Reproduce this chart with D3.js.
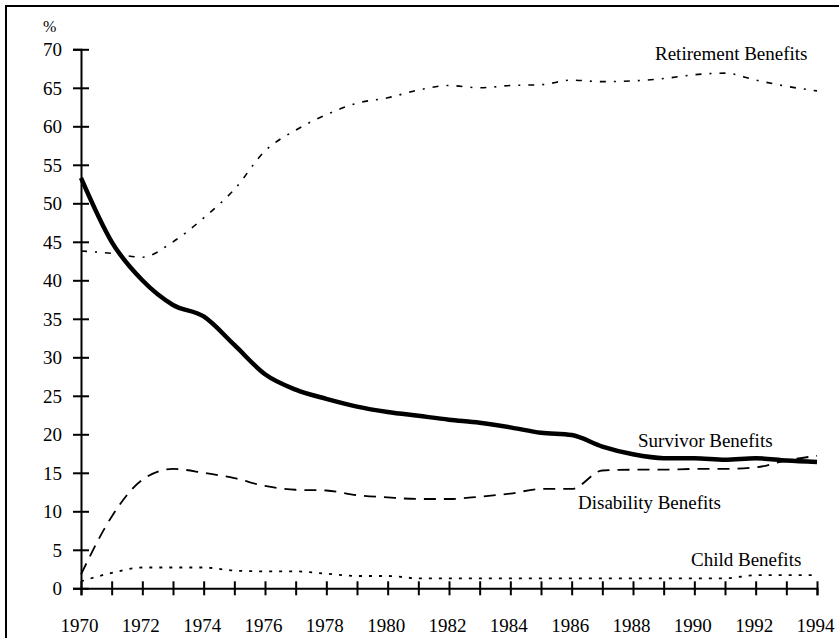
<!DOCTYPE html>
<html>
<head>
<meta charset="utf-8">
<script src="https://cdn.jsdelivr.net/npm/d3@7"></script>
<style>
  html, body { margin: 0; padding: 0; background: #fff; }
  svg { display: block; }
  text { font-family: "Liberation Serif", "Times New Roman", serif; fill: #000; }
</style>
</head>
<body>
<div id="chart"></div>
<script>
const years = [1970, 1971, 1972, 1973, 1974, 1975, 1976, 1977, 1978, 1979, 1980, 1981, 1982,
  1983, 1984, 1985, 1986, 1987, 1988, 1989, 1990, 1991, 1992, 1993, 1994];

const retirement = [43.8, 43.5, 43.0, 45.0, 48.1, 51.8, 56.8, 59.5, 61.5, 63.0, 63.7, 64.7, 65.3,
  65.0, 65.3, 65.4, 66.0, 65.8, 65.9, 66.2, 66.7, 66.9, 66.0, 65.2, 64.6];
const survivor = [53.3, 45.0, 40.0, 36.8, 35.3, 31.6, 27.8, 25.8, 24.6, 23.6, 22.9, 22.4, 21.9,
  21.5, 20.9, 20.2, 19.9, 18.4, 17.4, 16.9, 16.9, 16.7, 16.9, 16.6, 16.4];
const disability = [1.8, 9.3, 14.1, 15.5, 15.0, 14.3, 13.3, 12.8, 12.7, 12.1, 11.8, 11.6, 11.6,
  11.9, 12.3, 12.9, 12.9, 15.3, 15.4, 15.4, 15.5, 15.5, 15.7, 16.6, 17.2];
const child = [0.9, 2.0, 2.7, 2.7, 2.7, 2.3, 2.2, 2.2, 1.9, 1.6, 1.6, 1.3, 1.3,
  1.3, 1.3, 1.3, 1.3, 1.3, 1.3, 1.3, 1.3, 1.3, 1.7, 1.7, 1.7];

const yTicks = [0, 5, 10, 15, 20, 25, 30, 35, 40, 45, 50, 55, 60, 65, 70];
const xLabels = [1970, 1972, 1974, 1976, 1978, 1980, 1982, 1984, 1986, 1988, 1990, 1992, 1994];

const series = [
  { name: 'Retirement Benefits', values: retirement, width: 1.6, dash: '6,8,2,8', label: [655, 60] },
  { name: 'Disability Benefits', values: disability, width: 1.8, dash: '12,8', label: [578, 509] },
  { name: 'Child Benefits', values: child, width: 1.8, dash: '3,7', label: [691, 566] },
  { name: 'Survivor Benefits', values: survivor, width: 4.5, dash: null, label: [638, 447] }
];

const width = 839;
const height = 638;

const svg = d3.select('#chart').append('svg').attr('width', width).attr('height', height);

// frame, only left and top edges show
svg.append('rect')
  .attr('x', 6).attr('y', 6)
  .attr('width', 900).attr('height', 700)
  .attr('fill', 'none').attr('stroke', '#000').attr('stroke-width', 2);

const x = d3.scaleLinear().domain([1970, 1994]).range([81, 817]);
const y = d3.scaleLinear().domain([0, 70]).range([588.3, 49.3]);

const fontSize = 19;

// y axis
const yAxis = svg.append('g')
  .attr('transform', `translate(${x(1970)},0)`)
  .call(d3.axisLeft(y).tickValues(yTicks).tickSizeOuter(0).tickSize(8));
yAxis.select('.domain').attr('stroke-width', 2);
yAxis.selectAll('.tick line').attr('x1', 8).attr('x2', -8).attr('stroke-width', 2);
yAxis.selectAll('.tick text')
  .attr('x', -19).attr('dy', '0.34em')
  .style('font-size', fontSize + 'px').style('font-family', '"Liberation Serif", serif');

// x axis
const xAxis = svg.append('g')
  .attr('transform', `translate(0,${y(0)})`)
  .call(d3.axisBottom(x).tickValues(years).tickSizeOuter(0).tickSize(7)
    .tickFormat(d => xLabels.includes(d) ? String(d) : ''));
xAxis.select('.domain').attr('stroke-width', 2);
xAxis.selectAll('.tick line').attr('y1', -7).attr('y2', 7).attr('stroke-width', 2);
xAxis.selectAll('.tick text')
  .attr('y', 44).attr('dy', 0).attr('dx', -2)
  .style('font-size', fontSize + 'px').style('font-family', '"Liberation Serif", serif');

svg.append('text')
  .attr('x', 43).attr('y', 32)
  .style('font-size', '16px')
  .text('%');

const line = d3.line()
  .x((d, i) => x(years[i]))
  .y(d => y(d))
  .curve(d3.curveMonotoneX);

series.forEach(s => {
  svg.append('path')
    .datum(s.values)
    .attr('fill', 'none')
    .attr('stroke', '#000')
    .attr('stroke-width', s.width)
    .attr('stroke-dasharray', s.dash)
    .attr('stroke-linejoin', 'round')
    .attr('d', line);

  svg.append('text')
    .attr('x', s.label[0]).attr('y', s.label[1])
    .style('font-size', fontSize + 'px')
    .text(s.name);
});
</script>
</body>
</html>
